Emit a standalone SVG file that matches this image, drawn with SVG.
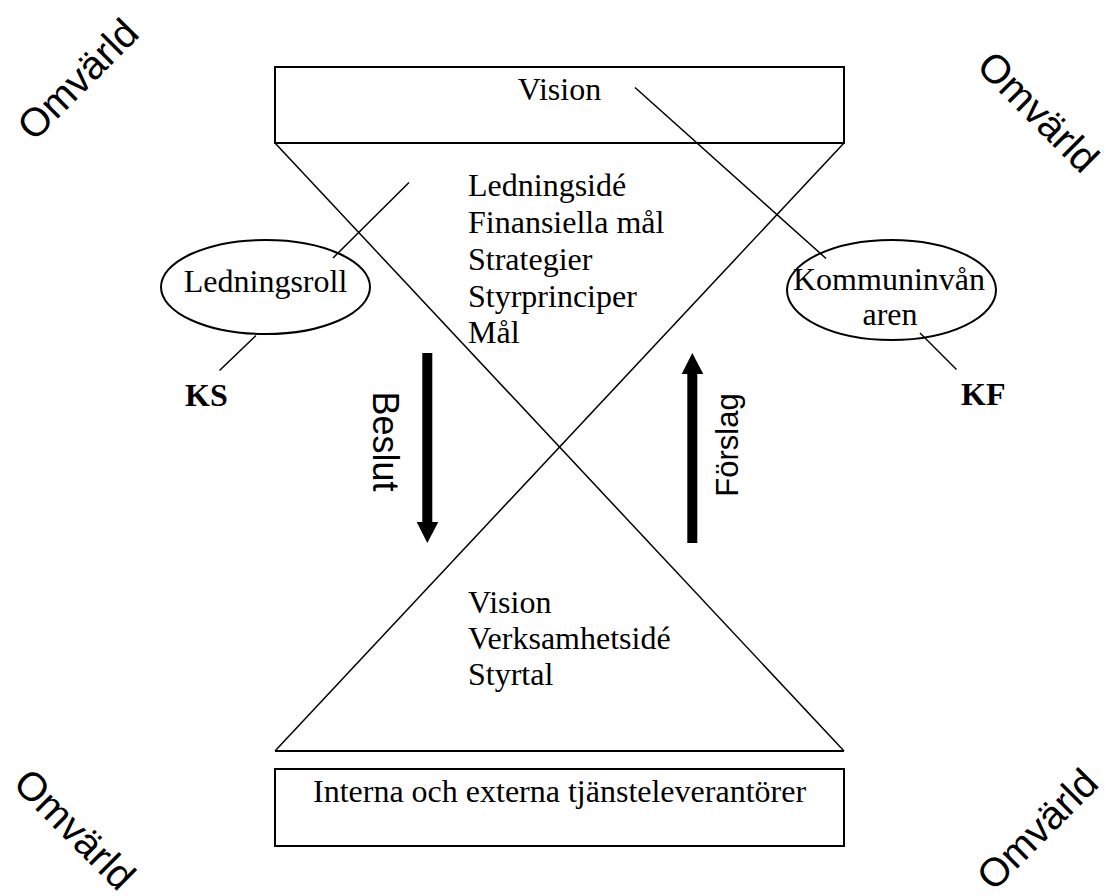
<svg xmlns="http://www.w3.org/2000/svg" width="1106" height="896" viewBox="0 0 1106 896">
<style>
.box{fill:none;stroke:#000;stroke-width:2}
.ln{fill:none;stroke:#000;stroke-width:1.5}
.tr{font-family:"Liberation Serif","Times New Roman",serif;font-size:32px;fill:#000}
.trb{font-family:"Liberation Serif","Times New Roman",serif;font-size:32px;font-weight:bold;fill:#000}
.ar{font-family:"Liberation Sans",Arial,sans-serif;fill:#000}
.om{font-size:40px}
.arrow{fill:#000;stroke:none}
</style>
<rect width="1106" height="896" fill="#fff"/>
<g id="omvarld">
<text class="ar om" text-anchor="middle" transform="translate(87.5,89) rotate(-45)">Omvärld</text>
<text class="ar om" text-anchor="middle" transform="translate(1028.5,121.5) rotate(45)">Omvärld</text>
<text class="ar om" text-anchor="middle" transform="translate(65,839) rotate(45)">Omvärld</text>
<text class="ar om" text-anchor="middle" transform="translate(1047,839) rotate(-45)">Omvärld</text>
</g>
<g id="hourglass">
<line class="ln" x1="275" y1="143" x2="844" y2="751"/>
<line class="ln" x1="844" y1="143" x2="275" y2="751"/>
<line class="box" x1="275" y1="751" x2="844" y2="751"/>
</g>
<g id="vision-box">
<rect class="box" x="275" y="67" width="569" height="76"/>
<text class="tr" x="559.5" y="100" text-anchor="middle">Vision</text>
</g>
<g id="top-list">
<text class="tr" x="468" y="196">Ledningsidé</text>
<text class="tr" x="468" y="233">Finansiella mål</text>
<text class="tr" x="468" y="270">Strategier</text>
<text class="tr" x="468" y="307">Styrprinciper</text>
<text class="tr" x="468" y="343">Mål</text>
</g>
<g id="bottom-list">
<text class="tr" x="468" y="613">Vision</text>
<text class="tr" x="468" y="649">Verksamhetsidé</text>
<text class="tr" x="468" y="685">Styrtal</text>
</g>
<g id="ledningsroll">
<ellipse class="box" cx="265.5" cy="287" rx="104.5" ry="47"/>
<text class="tr" x="265.5" y="292" text-anchor="middle">Ledningsroll</text>
</g>
<g id="kommuninvanaren">
<ellipse class="box" cx="891.5" cy="290" rx="104.5" ry="50"/>
<text class="tr" x="889" y="290" text-anchor="middle">Kommuninvån</text>
<text class="tr" x="890" y="325" text-anchor="middle">aren</text>
</g>
<g id="ks"><text class="trb" x="185" y="406">KS</text></g>
<g id="kf"><text class="trb" x="961" y="405">KF</text></g>
<g id="connectors">
<line class="ln" x1="333" y1="258" x2="409" y2="182.5"/>
<line class="ln" x1="256" y1="335.5" x2="219.5" y2="370.5"/>
<line class="ln" x1="635" y1="87.5" x2="826" y2="258.5"/>
<line class="ln" x1="920" y1="333" x2="956.5" y2="369.5"/>
</g>
<g id="beslut">
<polygon class="arrow" points="422.3,353 432.3,353 432.3,522 438.3,522 427.3,543 416.7,522 422.3,522"/>
<text class="ar" font-size="36" text-anchor="middle" transform="translate(373,441.5) rotate(90)">Beslut</text>
</g>
<g id="forslag">
<polygon class="arrow" points="692.3,353 703.3,374 697.3,374 697.3,543 687.3,543 687.3,374 681.7,374"/>
<text class="ar" font-size="31" text-anchor="middle" transform="translate(738,445) rotate(-90)">Förslag</text>
</g>
<g id="leverantorer">
<rect class="box" x="275" y="769" width="569" height="77"/>
<text class="tr" x="559.5" y="802" text-anchor="middle">Interna och externa tjänsteleverantörer</text>
</g>
</svg>
